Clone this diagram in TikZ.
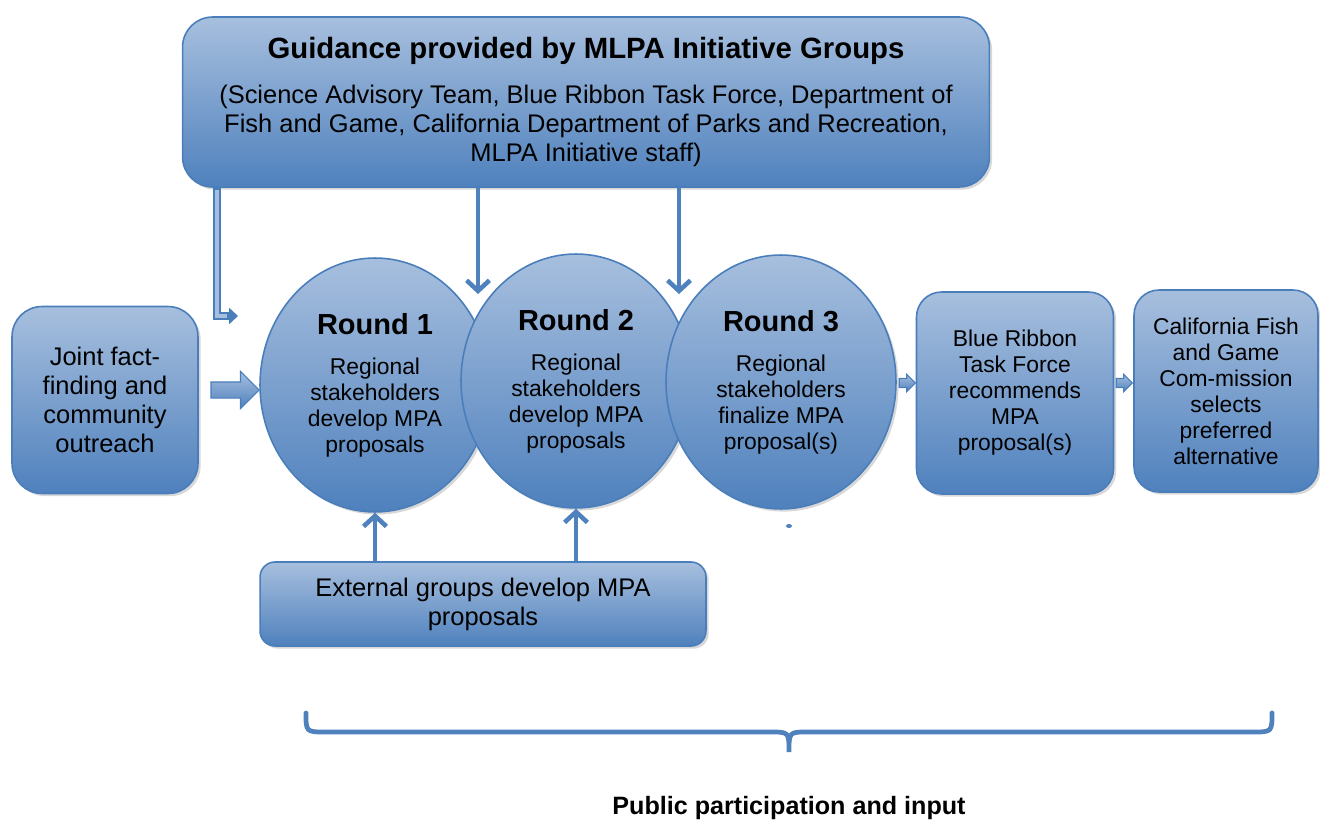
\documentclass[tikz,border=0pt]{standalone}
\usepackage{fontspec}
\setmainfont{Liberation Sans}
\usetikzlibrary{positioning,shapes.geometric,shapes.arrows,arrows.meta,shadows}

\definecolor{boxtop}{RGB}{167,191,222}
\definecolor{boxbot}{RGB}{79,129,189}
\definecolor{boxline}{RGB}{74,126,187}

\begin{document}
\begin{tikzpicture}[
	x=0.02cm, y=-0.02cm,
	panel/.style={
		rectangle,
		rounded corners=6mm,
		draw=boxline,
		line width=0.9pt,
		top color=boxtop,
		bottom color=boxbot,
		drop shadow={shadow xshift=1.5pt, shadow yshift=-1.5pt, fill=black!30},
		align=center,
		inner sep=0pt,
		font=\fontsize{14.5}{16.5}\selectfont,
	},
	smallpanel/.style={
		panel,
		font=\fontsize{13}{14.8}\selectfont,
	},
	round/.style={
		panel,
		ellipse,
		minimum width=4.6cm,
		minimum height=5.08cm,
		font=\fontsize{13}{14.8}\selectfont,
	},
	blockarrow/.style={% Fat arrows between boxes
		single arrow,
		draw=boxline,
		line width=0.6pt,
		top color=boxtop,
		bottom color=boxbot,
		inner xsep=0pt,
		inner ysep=0.15cm,
		single arrow head extend=0.21cm,
		minimum height=0.96cm,
	},
	tinyarrow/.style={
		blockarrow,
		inner ysep=0.08cm,
		single arrow head extend=0.08cm,
		minimum height=0.32cm,
	},
	ArrowG/.style={% Thin arrows with open heads
		draw=boxbot,
		line width=2.6pt,
		-{Straight Barb[length=6pt,width=13pt]},
	},
	brace/.style={
		draw=boxbot,
		line width=2.7pt,
		line cap=round,
	},
]

% boxes
\node[panel, minimum width=16.14cm, minimum height=3.4cm] (guide) at (586,102)
	{{\bfseries\fontsize{16.7}{19}\selectfont Guidance provided by MLPA Initiative Groups}\\[9pt]
	(Science Advisory Team, Blue Ribbon Task Force, Department of\\
	Fish and Game, California Department of Parks and Recreation,\\
	MLPA Initiative staff)};
\node[panel, minimum width=3.72cm, minimum height=3.74cm] (joint) at (105,400)
	{Joint fact-\\finding and\\community\\outreach};

\node[round] (r1) at (375,385)
	{{\bfseries\fontsize{16.5}{19}\selectfont Round 1}\\[8pt]Regional\\stakeholders\\develop MPA\\proposals};
\node[round] (r2) at (576,381)
	{{\bfseries\fontsize{16.5}{19}\selectfont Round 2}\\[8pt]Regional\\stakeholders\\develop MPA\\proposals};
\node[round] (r3) at (781,382)
	{{\bfseries\fontsize{16.5}{19}\selectfont Round 3}\\[8pt]Regional\\stakeholders\\finalize MPA\\proposal(s)};

\node[smallpanel, rounded corners=5mm, minimum width=3.94cm, minimum height=4.04cm] (brtf) at (1015,393)
	{Blue Ribbon\\Task Force\\recommends\\MPA\\proposal(s)};
\node[smallpanel, rounded corners=5mm, minimum width=3.68cm, minimum height=4.04cm] (fgc) at (1226,391)
	{California Fish\\and Game\\Com-mission\\selects\\preferred\\alternative};

\node[panel, rounded corners=3mm, minimum width=8.92cm, minimum height=1.68cm] (ext) at (483,604)
	{External groups develop MPA\\proposals};

% fat arrows
\node[blockarrow] (a0) at (231,390) {};
\node[tinyarrow] (a3) at (905,383) {};
\node[tinyarrow] (a4) at (1122,383) {};

% guidance arrows
\coordinate (g1) at (478,294);
\coordinate (g2) at (679,294);
\coordinate (lbend) at (217,316);
\coordinate (ltip) at (238,316);

\draw[draw=boxline, line width=4pt, -{Triangle[length=5pt,width=9pt]}] (guide.south -| lbend) -- (lbend) -- (ltip);
\draw[draw=boxtop, line width=1.8pt, shorten >=6pt] ([yshift=-1pt]guide.south -| lbend) -- (lbend) -- (ltip);
\draw[ArrowG] (guide.south -| g1) -- (g1);
\draw[ArrowG] (guide.south -| g2) -- (g2);

\draw[ArrowG] (ext.north -| r1.south) -- (r1.south);
\draw[ArrowG] (ext.north -| r2.south) -- (r2.south);
\fill[boxbot] (789,526) ellipse [x radius=3, y radius=2];

% brace
\coordinate (bl) at (306,713);
\coordinate (bm) at (789,752);
\coordinate (br) at (1272,713);
\draw[brace] (bl) .. controls (306,732) .. (326,732) -- (770,732)
	.. controls (789,732) .. (bm) .. controls (789,732) .. (808,732)
	-- (1252,732) .. controls (1272,732) .. (br);
\node[font=\bfseries\fontsize{14.3}{16.5}\selectfont] (pub) at (789,808) {Public participation and input};

\useasboundingbox (0,0) rectangle (1320,821);
\end{tikzpicture}
\end{document}
